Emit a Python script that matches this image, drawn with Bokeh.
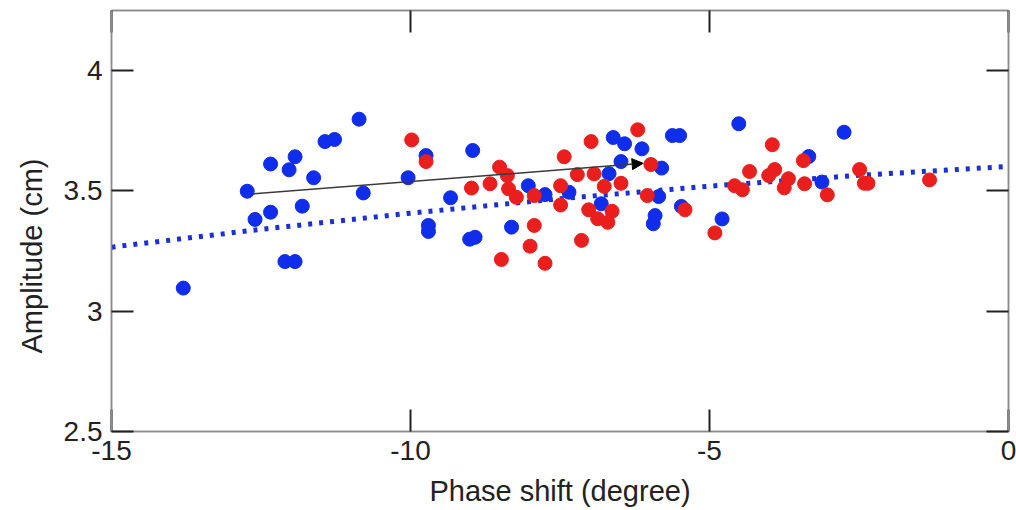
from bokeh.plotting import figure
from bokeh.models import LinearAxis, FixedTicker, Range1d, Arrow, NormalHead, Title
from bokeh.embed import file_html
from bokeh.resources import INLINE

# ---- data ----
blue_x = [-13.80, -12.73, -12.60, -12.34, -12.34, -12.03, -11.93, -12.10, -11.93, -11.81,
          -11.62, -11.43, -11.27, -10.86, -10.79, -10.04, -9.74, -8.96, -9.33, -9.70,
          -9.70, -9.01, -8.92, -8.31, -8.03, -7.75, -7.35, -6.81, -6.68, -6.61,
          -6.42, -6.13, -6.48, -5.80, -5.85, -5.91, -5.94, -5.62, -5.50, -5.47,
          -4.79, -4.51, -2.75, -3.34, -3.12]
blue_y = [3.095, 3.497, 3.380, 3.610, 3.410, 3.586, 3.640, 3.205, 3.205, 3.435,
          3.553, 3.703, 3.712, 3.796, 3.490, 3.553, 3.645, 3.666, 3.470, 3.355,
          3.330, 3.298, 3.306, 3.348, 3.520, 3.483, 3.493, 3.445, 3.570, 3.720,
          3.694, 3.673, 3.620, 3.593, 3.475, 3.396, 3.362, 3.728, 3.728, 3.434,
          3.382, 3.777, 3.742, 3.641, 3.535]

red_x = [-9.98, -9.74, -8.98, -8.67, -8.51, -8.38, -8.36, -8.23, -7.93, -7.93,
         -8.00, -8.48, -7.75, -7.49, -7.49, -7.43, -7.21, -6.98, -6.93, -7.14,
         -7.02, -6.87, -6.76, -6.70, -6.63, -6.48, -6.20, -5.98, -6.04, -5.41,
         -4.91, -3.95, -3.43, -4.33, -3.91, -4.01, -3.68, -4.58, -4.45, -3.75,
         -3.41, -3.03, -2.49, -2.41, -2.35, -1.32]
red_y = [3.710, 3.620, 3.510, 3.528, 3.597, 3.562, 3.507, 3.472, 3.479, 3.355,
         3.269, 3.214, 3.198, 3.520, 3.440, 3.640, 3.566, 3.703, 3.569, 3.293,
         3.420, 3.383, 3.517, 3.368, 3.414, 3.530, 3.752, 3.608, 3.479, 3.420,
         3.324, 3.690, 3.624, 3.579, 3.587, 3.562, 3.549, 3.520, 3.503, 3.511,
         3.528, 3.482, 3.587, 3.530, 3.530, 3.544]

# dotted trend curve (values read at these phase shifts)
trend_x = [-15, -12.5, -10, -7.5, -5, -2.5, 0]
trend_y = [3.265, 3.339, 3.406, 3.466, 3.518, 3.563, 3.600]

# arrow (start -> end)
arrow_x = [-12.63, -6.11]
arrow_y = [3.486, 3.613]

x_ticks = [-15, -10, -5, 0]
x_tick_labels = ["-15", "-10", "-5", "0"]
y_ticks = [2.5, 3, 3.5, 4]
y_tick_labels = ["2.5", "3", "3.5", "4"]

BLUE = "#0f2deb"
RED = "#eb1e1e"
FONT = "Liberation Sans"
TICK_FS = "28px"
LABEL_FS = "29px"

p = figure(frame_width=897, frame_height=421,
           x_range=Range1d(-15, 0), y_range=Range1d(2.5, 4.247),
           output_backend="svg", toolbar_location=None,
           min_border_left=110, min_border_right=9, min_border_top=10, min_border_bottom=79)
p.grid.visible = False
p.background_fill_color = "white"
p.border_fill_color = "white"
p.outline_line_color = "#8c8c8c"
p.outline_line_width = 1.5

def style(ax, labels_on, ticks, labels):
    ax.ticker = FixedTicker(ticks=ticks)
    ax.major_label_overrides = {t: l for t, l in zip(ticks, labels)}
    ax.axis_line_color = "#8c8c8c"
    ax.axis_line_width = 1.5
    ax.major_tick_in = 22
    ax.major_tick_out = 0
    ax.major_tick_line_color = "#222222"
    ax.major_tick_line_width = 2
    ax.minor_tick_line_color = None
    ax.major_label_text_font = FONT
    ax.major_label_text_color = "#222222"
    if labels_on:
        ax.major_label_text_font_size = TICK_FS
        ax.major_label_standoff = 9
    else:
        ax.major_label_text_font_size = "0px"
        ax.major_label_standoff = 0

style(p.xaxis[0], True, x_ticks, x_tick_labels)
style(p.yaxis[0], True, y_ticks, y_tick_labels)
xa = p.xaxis[0]
xa.axis_label = "Phase shift (degree)"
xa.axis_label_text_font = FONT
xa.axis_label_text_font_size = LABEL_FS
xa.axis_label_text_font_style = "normal"
xa.axis_label_text_color = "#222222"
xa.axis_label_standoff = 12

top = LinearAxis()
style(top, False, x_ticks, ["", "", "", ""])
p.add_layout(top, "above")
right = LinearAxis()
style(right, False, y_ticks, ["", "", "", ""])
p.add_layout(right, "right")

# y axis title (sits lower than the frame centre, as in the reference)
p.add_layout(Title(text="Amplitude (cm)", align="left", offset=78, standoff=26,
                   text_font=FONT, text_font_size=LABEL_FS, text_font_style="normal",
                   text_color="#222222"), "left")

# trend curve
p.line(trend_x, trend_y, line_color="#1a30d8", line_width=5, line_dash="4 7")

# data points
p.scatter(blue_x, blue_y, size=14, color=BLUE, line_color=BLUE)
p.scatter(red_x, red_y, size=14, color=RED, line_color=RED)

# arrow
p.add_layout(Arrow(x_start=arrow_x[0], y_start=arrow_y[0], x_end=arrow_x[1], y_end=arrow_y[1],
                   line_color="#3a3a3a", line_width=1.5,
                   end=NormalHead(size=11, fill_color="black", line_color="black")))

open("out.html", "w").write(file_html(p, INLINE))
